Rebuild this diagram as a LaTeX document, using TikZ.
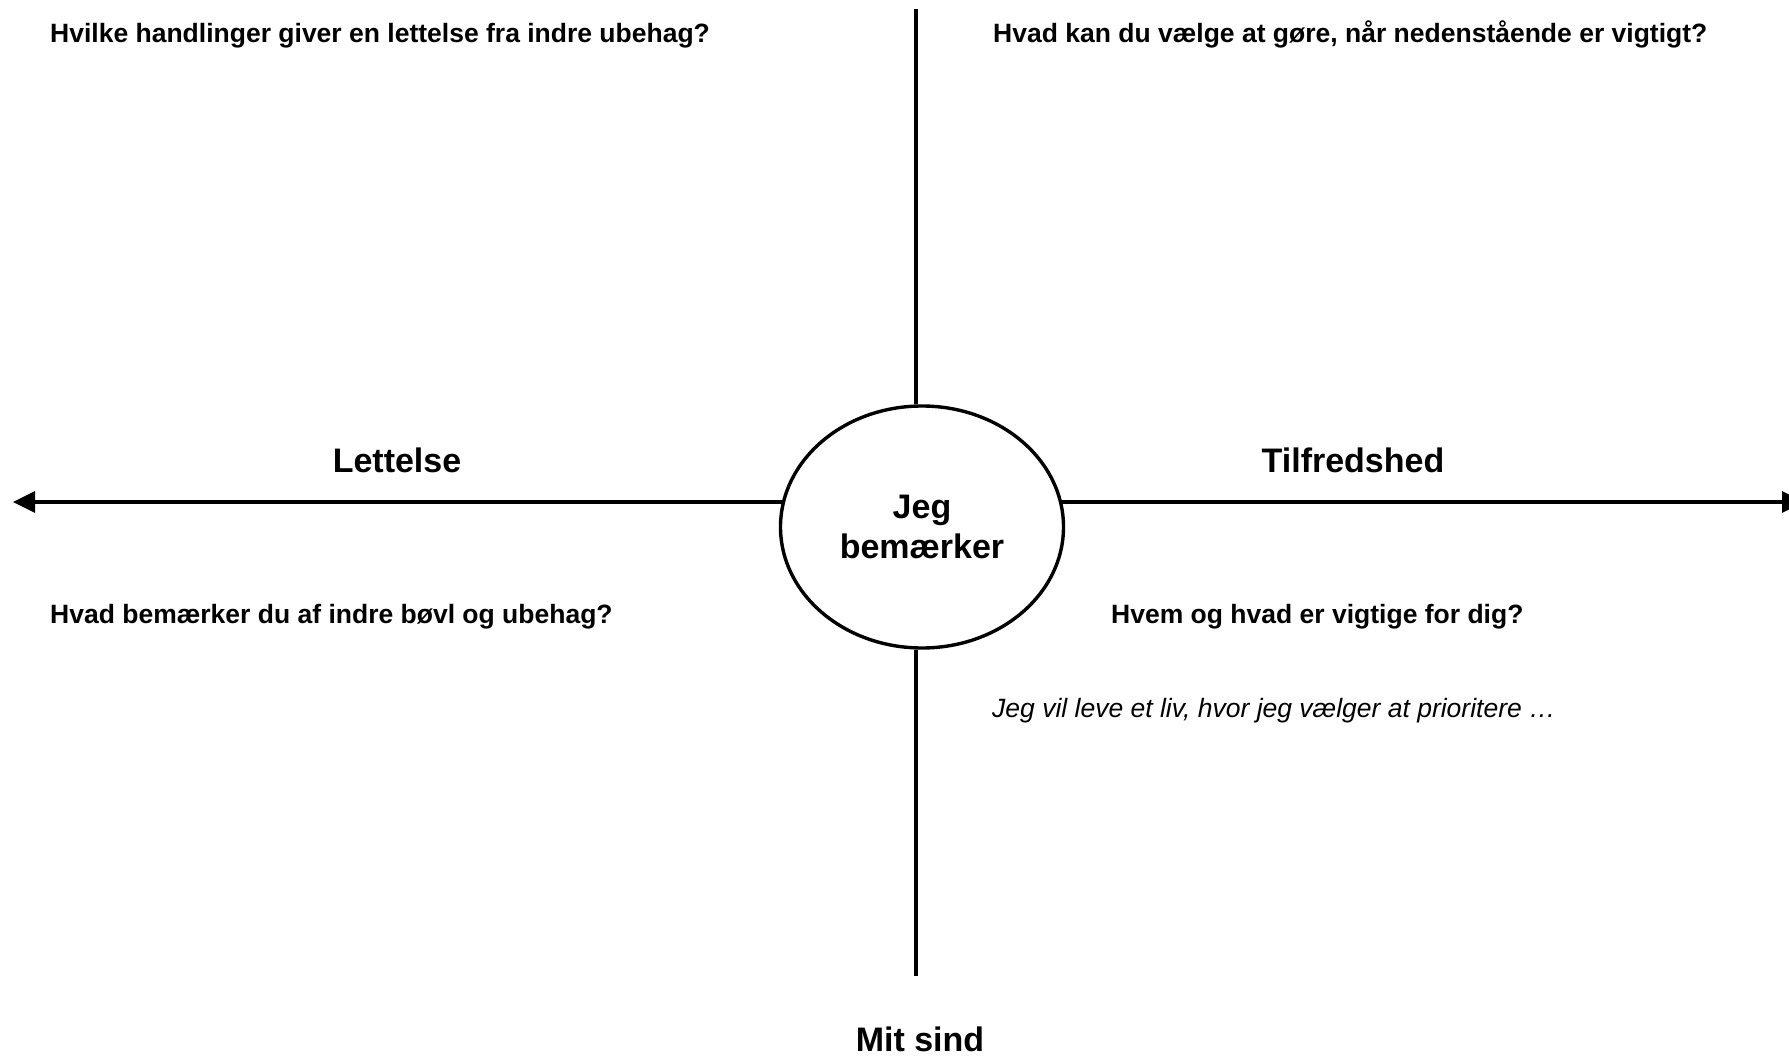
\documentclass[tikz,border=0pt]{standalone}
\usepackage{fontspec}
\setmainfont{Liberation Sans}
\usepackage{tikz}
\usetikzlibrary{positioning, arrows.meta, shapes.geometric}
\definecolor{cInk}{HTML}{000000}

\tikzset{
  question/.style={font=\fontsize{26.5}{31}\selectfont\bfseries, text=cInk, anchor=base west, inner sep=0pt},
  prompt/.style={font=\fontsize{26.5}{31}\selectfont\itshape, text=cInk, anchor=base west, inner sep=0pt},
  axislabel/.style={font=\fontsize{34}{40}\selectfont\bfseries, text=cInk, anchor=base, inner sep=0pt},
  axisline/.style={draw=cInk, line width=3.2pt},
}

\begin{document}
\begin{tikzpicture}[x=1pt, y=-1pt]
  \useasboundingbox (0,0) rectangle (1789,1056);
  % centre
  \node[ellipse, draw=cInk, line width=3.4pt, minimum width=283pt, minimum height=242pt,
        inner sep=0pt, align=center, font=\fontsize{34}{40}\selectfont\bfseries] (self) at (922,527) {Jeg\\bemærker};
  % axes
  \coordinate (axTop)   at (916,9);
  \coordinate (axBot)   at (916,976);
  \coordinate (axLeft)  at (13,502);
  \coordinate (axRight) at (1804,502);
  \draw[axisline] (axTop) -- (axTop |- self.north);
  \draw[axisline] (axBot |- self.south) -- (axBot);
  \draw[axisline, -{Triangle[length=22pt, width=21pt]}] ([xshift=3pt]self.west |- axLeft) -- (axLeft);
  \draw[axisline, -{Triangle[length=22pt, width=21pt]}] ([xshift=-3pt]self.east |- axRight) -- (axRight);
  % axis labels
  \node[axislabel] (lblRelief) at (397,472)  {Lettelse};
  \node[axislabel] (lblSatisf) at (1353,472) {Tilfredshed};
  \node[axislabel] (lblMind)   at (920,1051) {Mit sind};
  % quadrant questions
  \node[question] (qRelief) at (50,43)   {Hvilke handlinger giver en lettelse fra indre ubehag?};
  \node[question] (qAct)    at (993,43)  {Hvad kan du vælge at gøre, når nedenstående er vigtigt?};
  \node[question] (qNotice) at (50,623)  {Hvad bemærker du af indre bøvl og ubehag?};
  \node[question] (qWho)    at (1111,623) {Hvem og hvad er vigtige for dig?};
  \node[prompt]   (qLive)   at (992,717) {Jeg vil leve et liv, hvor jeg vælger at prioritere …};
\end{tikzpicture}
\end{document}
